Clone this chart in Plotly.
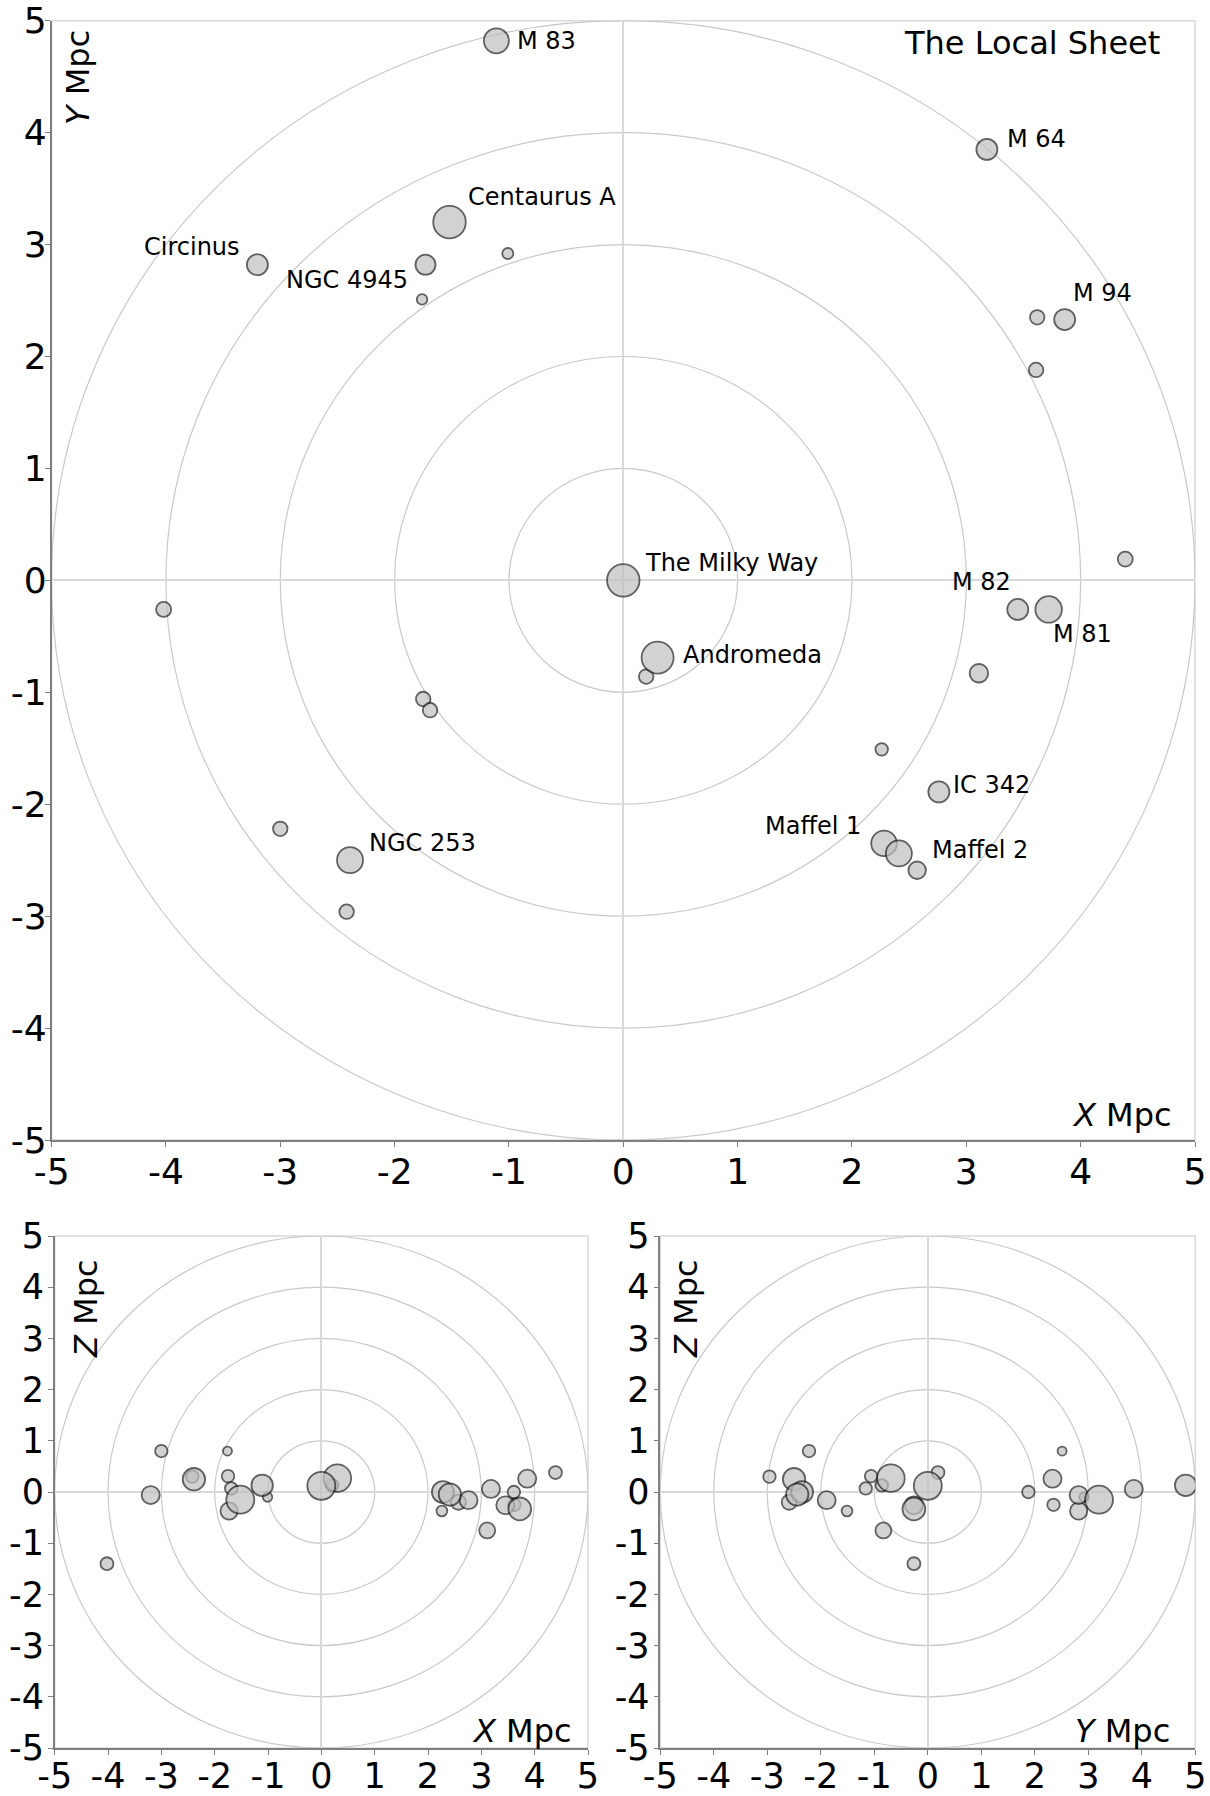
import plotly.graph_objects as go

# ---------------- data ----------------
NAMES = ["", "", "",
         "", "", "", "", "", "", "", "", "",
         "", "",
         "NGC 4945", "Circinus", "M 64", "M 94", "M 82", "IC 342",
         "M 83", "NGC 253", "Maffel 1", "Maffel 2", "M 81",
         "Andromeda", "The Milky Way", "Centaurus A"]
X_MPC = [-1.01, -1.76, 2.26,
         0.20, 3.62, 3.61, 4.39, -4.02, -1.75, -1.69, -3.00, -2.42,
         3.11, 2.57,
         -1.73, -3.20, 3.18, 3.86, 3.45, 2.76,
         -1.11, -2.39, 2.28, 2.41, 3.72,
         0.30, 0.00, -1.52]
Y_MPC = [2.92, 2.51, -1.51,
         -0.86, 2.35, 1.88, 0.19, -0.26, -1.06, -1.16, -2.22, -2.96,
         -0.83, -2.59,
         2.82, 2.82, 3.85, 2.33, -0.26, -1.89,
         4.82, -2.50, -2.35, -2.44, -0.26,
         -0.69, 0.00, 3.20]
Z_MPC = [-0.10, 0.80, -0.37,
         0.13, -0.25, 0.00, 0.38, -1.40, 0.31, 0.07, 0.80, 0.30,
         -0.75, -0.20,
         -0.37, -0.06, 0.06, 0.26, -0.26, -0.16,
         0.13, 0.25, 0.00, -0.05, -0.33,
         0.27, 0.12, -0.15]
BUBBLE = [11, 10.5, 12.5,
          14.5, 14.5, 14.5, 15, 15, 14.5, 14.5, 14.5, 14.5,
          18.5, 17.5,
          20, 21, 21, 21, 21, 21,
          25, 26, 25.5, 26, 26.5,
          32, 32.5, 32.5]

TICKS = [-5, -4, -3, -2, -1, 0, 1, 2, 3, 4, 5]
TICK_LABELS = ["-5", "-4", "-3", "-2", "-1", "0", "1", "2", "3", "4", "5"]
RINGS = [1, 2, 3, 4, 5]

# ---------------- style ----------------
FONT = "DejaVu Sans"
FILL = "#c0c0c0"
EDGE = "#1e1e1e"
RING_C = "#c9c9c9"
ZERO_C = "#d9d9d9"
AXIS_C = "#808080"

LABEL_OFFSETS = {  # name: (xanchor, xshift, yshift)
    "M 83": ("left", 19, 0),
    "Centaurus A": ("left", 16, 25),
    "Circinus": ("right", -15, 18),
    "NGC 4945": ("right", -15, -15),
    "M 64": ("left", 18, 10),
    "M 94": ("left", 6, 27),
    "The Milky Way": ("left", 20, 17),
    "Andromeda": ("left", 23, 3),
    "M 82": ("right", -5, 27),
    "M 81": ("left", 2, -25),
    "IC 342": ("left", 12, 7),
    "Maffel 1": ("right", -21, 17),
    "Maffel 2": ("left", 31, 3),
    "NGC 253": ("left", 17, 17),
}

bottom_size = [0.86 * s for s in BUBBLE]

fig = go.Figure()
marker_line = dict(color=EDGE, width=1.8)
fig.add_trace(go.Scatter(x=X_MPC, y=Y_MPC, mode="markers", xaxis="x", yaxis="y",
                         marker=dict(size=BUBBLE, color=FILL, line=marker_line),
                         hoverinfo="skip"))
fig.add_trace(go.Scatter(x=X_MPC, y=Z_MPC, mode="markers", xaxis="x2", yaxis="y2",
                         marker=dict(size=bottom_size, color=FILL, line=marker_line),
                         hoverinfo="skip"))
fig.add_trace(go.Scatter(x=Y_MPC, y=Z_MPC, mode="markers", xaxis="x3", yaxis="y3",
                         marker=dict(size=bottom_size, color=FILL, line=marker_line),
                         hoverinfo="skip"))


def axis(domain, anchor, standoff, fsize):
    return dict(domain=domain, anchor=anchor, range=[-5, 5], tickmode="array",
                tickvals=TICKS, ticktext=TICK_LABELS, showgrid=False,
                zeroline=True, zerolinecolor=ZERO_C, zerolinewidth=2,
                showline=True, linecolor=AXIS_C, linewidth=1.5,
                ticks="outside", ticklen=5, tickwidth=1, tickcolor=AXIS_C,
                ticklabelstandoff=standoff,
                tickfont=dict(family=FONT, size=fsize, color="black"),
                automargin=False, fixedrange=True)


W, H = 1210, 1796
main_x = [51.6 / W, 1195 / W]
main_y = [1 - 1140 / H, 1 - 20.7 / H]
bl_x = [54.7 / W, 588 / W]
br_x = [660.3 / W, 1195.3 / W]
bot_y = [1 - 1748 / H, 1 - 1236 / H]

fig.update_layout(
    width=W, height=H, margin=dict(l=0, r=0, t=0, b=0),
    paper_bgcolor="white", plot_bgcolor="white", showlegend=False,
    font=dict(family=FONT, color="black"),
    xaxis=axis(main_x, "y", -6, 36), yaxis=axis(main_y, "x", -9, 36),
    xaxis2=axis(bl_x, "y2", -9, 35), yaxis2=axis(bot_y, "x2", -3, 35),
    xaxis3=axis(br_x, "y3", -9, 35), yaxis3=axis(bot_y, "x3", -3, 35),
)

shapes = []
for xr, yr in [("x", "y"), ("x2", "y2"), ("x3", "y3")]:
    shapes.append(dict(type="rect", xref=xr + " domain", yref=yr + " domain",
                       x0=0, x1=1, y0=0, y1=1, line=dict(color=ZERO_C, width=1.5),
                       layer="below"))
    for r in RINGS:
        shapes.append(dict(type="circle", xref=xr, yref=yr, x0=-r, x1=r, y0=-r, y1=r,
                           line=dict(color=RING_C, width=1.2), layer="below"))
fig.update_layout(shapes=shapes)

ann = []
for name, xv, yv in zip(NAMES, X_MPC, Y_MPC):
    if not name:
        continue
    xa, dx, dy = LABEL_OFFSETS[name]
    ann.append(dict(x=xv, y=yv, xref="x", yref="y", text=name, showarrow=False,
                    xanchor=xa, yanchor="middle", xshift=dx, yshift=dy,
                    font=dict(family=FONT, size=24, color="black")))

title_font = dict(family=FONT, size=32, color="black")
ann += [
    dict(x=1162 / W, y=1 - 43 / H, xref="paper", yref="paper", text="The Local Sheet",
         showarrow=False, xanchor="right", yanchor="middle", font=title_font),
    dict(x=78 / W, y=1 - 78 / H, xref="paper", yref="paper", text="<i>Y</i> Mpc",
         showarrow=False, textangle=-90, xanchor="center", yanchor="middle", font=title_font),
    dict(x=1174 / W, y=1 - 1115 / H, xref="paper", yref="paper", text="<i>X</i> Mpc",
         showarrow=False, xanchor="right", yanchor="middle", font=title_font),
    dict(x=86 / W, y=1 - 1309 / H, xref="paper", yref="paper", text="<i>Z</i> Mpc",
         showarrow=False, textangle=-90, xanchor="center", yanchor="middle", font=title_font),
    dict(x=574 / W, y=1 - 1731 / H, xref="paper", yref="paper", text="<i>X</i> Mpc",
         showarrow=False, xanchor="right", yanchor="middle", font=title_font),
    dict(x=686 / W, y=1 - 1309 / H, xref="paper", yref="paper", text="<i>Z</i> Mpc",
         showarrow=False, textangle=-90, xanchor="center", yanchor="middle", font=title_font),
    dict(x=1172 / W, y=1 - 1731 / H, xref="paper", yref="paper", text="<i>Y</i> Mpc",
         showarrow=False, xanchor="right", yanchor="middle", font=title_font),
]
fig.update_layout(annotations=ann)

fig.write_html("out.html", config={"displayModeBar": False},
               post_script="document.body.style.margin='0px';")
